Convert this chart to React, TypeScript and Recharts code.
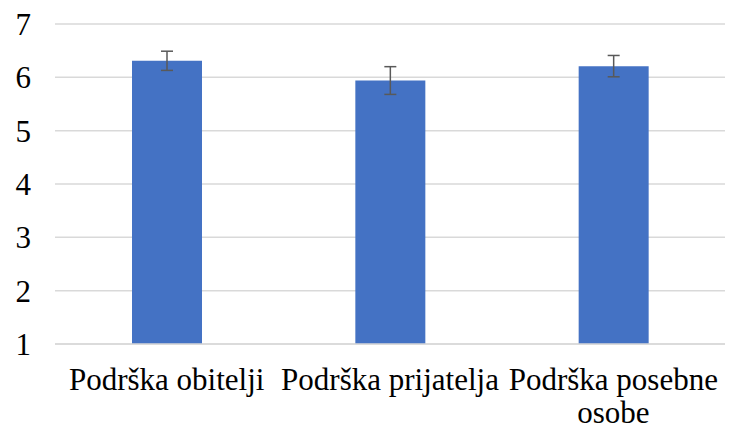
import React from 'react';
import { BarChart, Bar, XAxis, YAxis, CartesianGrid, ErrorBar } from 'recharts';

const categories = ['Podrška obitelji', 'Podrška prijatelja', 'Podrška posebne osobe'];
const means = [6.31, 5.94, 6.21];
const errors = [0.18, 0.26, 0.2];
const yTicks = [1, 2, 3, 4, 5, 6, 7];

const data = categories.map((name, i) => ({ name, value: means[i], err: errors[i] }));

const FONT = "'Liberation Serif', 'Times New Roman', serif";
const MAX_CHARS = 18;

// simple greedy word wrap by character count
const wrap = (label: string) => {
  const lines: string[] = [];
  let cur = '';
  label.split(' ').forEach(w => {
    const next = cur ? cur + ' ' + w : w;
    if (next.length > MAX_CHARS && cur) {
      lines.push(cur);
      cur = w;
    } else {
      cur = next;
    }
  });
  if (cur) lines.push(cur);
  return lines;
};

const CategoryTick = (props: any) => {
  const { x, y, payload } = props;
  const lines = wrap(String(payload.value));
  return (
    <text
      x={x}
      y={y + 38}
      textAnchor="middle"
      fill="#000"
      style={{ fontSize: 31, fontFamily: FONT }}
    >
      {lines.map((l, i) => (
        <tspan key={i} x={x} dy={i === 0 ? 0 : 33}>
          {l}
        </tspan>
      ))}
    </text>
  );
};

const App: React.FC = () => {
  return (
    <div style={{ width: 729, height: 432, background: '#fff', fontFamily: FONT }}>
      <style>{'body{margin:0}'}</style>
      <BarChart
        width={729}
        height={432}
        data={data}
        margin={{ top: 24, right: 4, left: 0, bottom: 0 }}
        barSize={70}
      >
        <CartesianGrid vertical={false} stroke="#d9d9d9" strokeWidth={1.5} />
        <XAxis
          dataKey="name"
          height={88}
          axisLine={{ stroke: '#d9d9d9', strokeWidth: 1.5 }}
          tickLine={false}
          interval={0}
          tick={<CategoryTick />}
        />
        <YAxis
          domain={[1, 7]}
          ticks={yTicks}
          width={55}
          axisLine={false}
          tickLine={false}
          tickMargin={18}
          tick={{ fill: '#000', style: { fontSize: 31, fontFamily: FONT } } as any}
        />
        <Bar dataKey="value" fill="#4472C4" isAnimationActive={false}>
          <ErrorBar dataKey="err" width={6} stroke="#595959" strokeWidth={1.5} direction="y" />
        </Bar>
      </BarChart>
    </div>
  );
};

export default App;
